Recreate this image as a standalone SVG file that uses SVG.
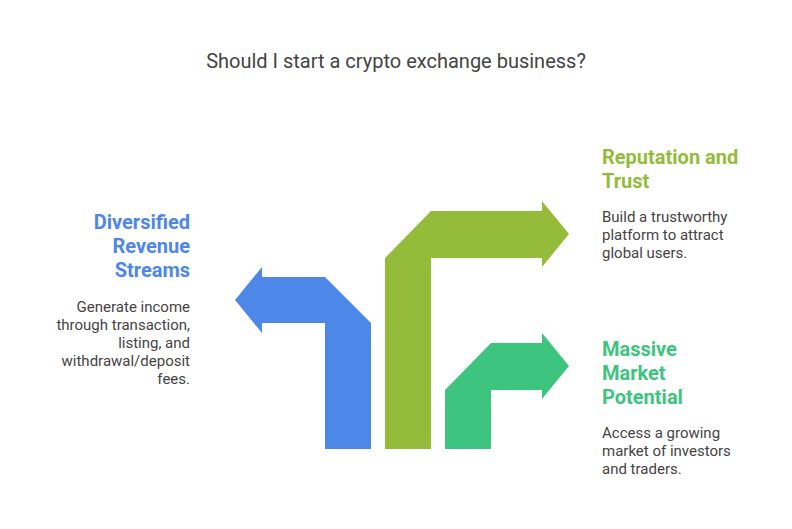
<svg xmlns="http://www.w3.org/2000/svg" width="792" height="529" viewBox="0 0 792 529">
<style>
text{font-family:Roboto,"Liberation Sans",sans-serif}
.t{font-size:20px;fill:#444}
.h{font-size:20px;font-weight:bold}
.d{font-size:15px;fill:#444}
</style>
<rect width="792" height="529" fill="#fff"/>
<text class="t" x="396" y="68" text-anchor="middle">Should I start a crypto exchange business?</text>
<g id="connectors"></g>
<g id="revenue">
<polygon fill="#4D87E8" points="262,277 325,277 371,323 371,449 325,449 325,323 262,323 262,333 235,300 262,267"/>
<text class="h" fill="#4D87E8" text-anchor="end"><tspan x="190" y="229">Diversified</tspan><tspan x="190" y="253">Revenue</tspan><tspan x="190" y="277">Streams</tspan></text>
<text class="d" text-anchor="end"><tspan x="190" y="312">Generate income</tspan><tspan x="190" y="330">through transaction,</tspan><tspan x="190" y="348">listing, and</tspan><tspan x="190" y="366">withdrawal/deposit</tspan><tspan x="190" y="384">fees.</tspan></text>
</g>
<g id="reputation">
<polygon fill="#94BC3A" points="385,449 385,258 431,211 542,211 542,201 569,234 542,267 542,258 431,258 431,449"/>
<text class="h" fill="#94BC3A"><tspan x="602" y="164">Reputation and</tspan><tspan x="602" y="188">Trust</tspan></text>
<text class="d"><tspan x="602" y="222">Build a trustworthy</tspan><tspan x="602" y="240">platform to attract</tspan><tspan x="602" y="258">global users.</tspan></text>
</g>
<g id="market">
<polygon fill="#3DC47E" points="445,449 445,390 491,343 542,343 542,333 569,366 542,399 542,390 491,390 491,449"/>
<text class="h" fill="#3DC47E"><tspan x="602" y="356">Massive</tspan><tspan x="602" y="380">Market</tspan><tspan x="602" y="404">Potential</tspan></text>
<text class="d"><tspan x="602" y="438">Access a growing</tspan><tspan x="602" y="456">market of investors</tspan><tspan x="602" y="474">and traders.</tspan></text>
</g>
</svg>
